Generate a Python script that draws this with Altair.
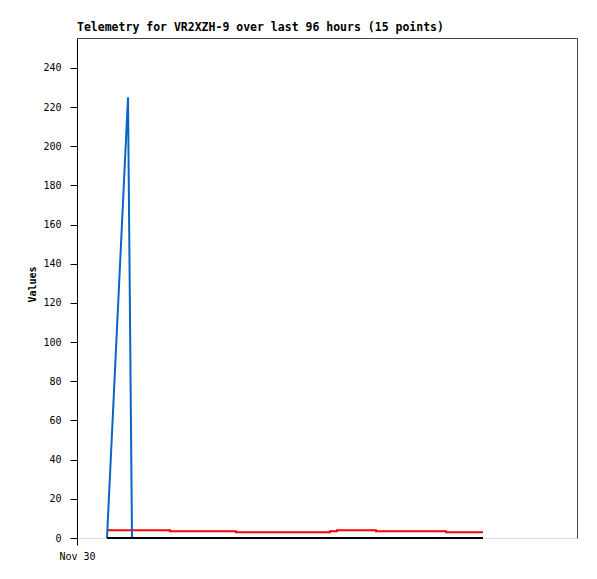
import altair as alt
import pandas as pd

# hours since Nov 30 00:00
hours = [3.0, 5.1, 5.5, 7.2, 9.3, 12.5, 15.9, 20.6, 25.3, 26.0, 29.9, 33.4, 36.9, 39.0, 40.6]
blue_vals = [0, 225, 0, 0, 0, 0, 0, 0, 0, 0, 0, 0, 0, 0, 0]
red_vals = [4, 4, 4, 4, 3.5, 3.5, 3, 3, 3.5, 4, 3.5, 3.5, 3, 3, 3]
black_vals = [0] * 15

y_ticks = list(range(0, 241, 20))
x_tick_labels = ["Nov 30"]

df = pd.DataFrame({"t": hours, "blue": blue_vals, "red": red_vals, "black": black_vals})

FONT = "DejaVu Sans Mono"
xscale = alt.Scale(domain=[0, 50], nice=False, zero=False)
yscale = alt.Scale(domain=[0, 255.3], nice=False)

x_axis = alt.Axis(values=[0], labelExpr="'" + x_tick_labels[0] + "'", title=None,
                  grid=False, domain=False, tickSize=7, tickColor="black",
                  labelFont=FONT, labelFontSize=10, labelColor="black",
                  labelPadding=6, labelAlign="center")
y_axis = alt.Axis(values=y_ticks, title="Values", grid=False, domainColor="black",
                  tickSize=7, tickColor="black", labelFont=FONT, labelFontSize=10,
                  labelColor="black", labelPadding=9, titleFont=FONT, titleFontSize=10,
                  titleFontWeight="bold", titleColor="black", titleX=-45, titleY=246,
                  titleAlign="center", titleBaseline="middle")

red = alt.Chart(df).mark_line(color="#ff0000", strokeWidth=2, interpolate="step-after").encode(
    x=alt.X("t:Q", scale=xscale, axis=x_axis),
    y=alt.Y("red:Q", scale=yscale, axis=y_axis))
blue = alt.Chart(df).mark_line(color="#0a64c8", strokeWidth=2).encode(
    x=alt.X("t:Q", scale=xscale, axis=None),
    y=alt.Y("blue:Q", scale=yscale, axis=None))
black = alt.Chart(df).mark_line(color="black", strokeWidth=2).encode(
    x=alt.X("t:Q", scale=xscale,
            axis=alt.Axis(orient="top", labels=False, ticks=False, grid=False, title=None,
                          domainColor="#444")),
    y=alt.Y("black:Q", scale=yscale,
            axis=alt.Axis(orient="right", labels=False, ticks=False, grid=False, title=None,
                          domainColor="#444")))

chart = alt.layer(red, blue, black).resolve_axis(x="independent", y="independent").properties(
    width=500, height=500,
    title=alt.TitleParams("Telemetry for VR2XZH-9 over last 96 hours (15 points)",
                          anchor="start", frame="group", font=FONT, fontSize=11.5,
                          fontWeight="bold", color="black", offset=5),
    autosize=alt.AutoSizeParams(type="none"),
    padding={"left": 69, "top": 30, "right": 10, "bottom": 30},
).configure_view(stroke=None).configure(background="white")

chart.save("out.html", embed_options={"renderer": "svg", "actions": False})
